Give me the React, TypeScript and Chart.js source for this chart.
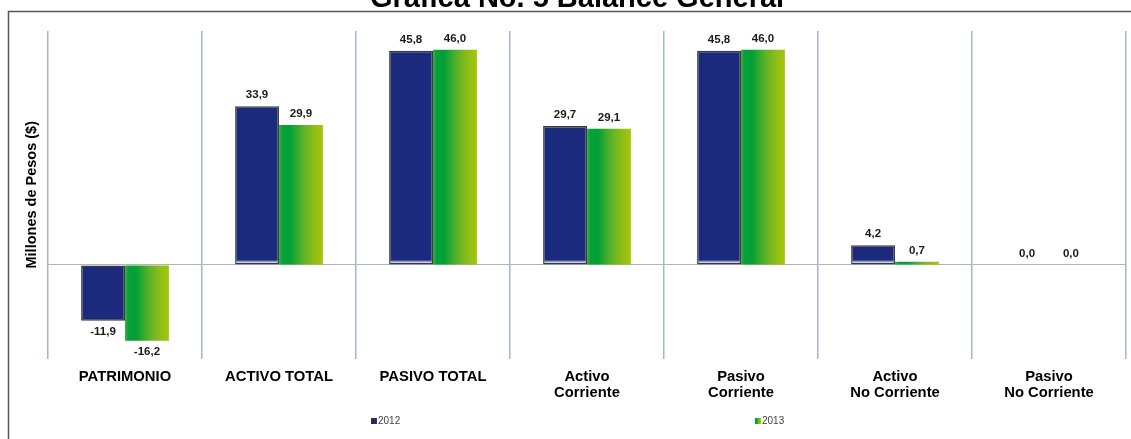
import React, { useEffect, useRef } from 'react';
import { Chart, registerables } from 'chart.js';

Chart.register(...registerables);

// ---- Data ----
const categories: string[][] = [
  ['PATRIMONIO'],
  ['ACTIVO TOTAL'],
  ['PASIVO TOTAL'],
  ['Activo', 'Corriente'],
  ['Pasivo', 'Corriente'],
  ['Activo', 'No Corriente'],
  ['Pasivo', 'No Corriente'],
];
const seriesNames = ['2012', '2013'];
const values2012 = [-11.9, 33.9, 45.8, 29.7, 45.8, 4.2, 0.0];
const values2013 = [-16.2, 29.9, 46.0, 29.1, 46.0, 0.7, 0.0];
const yMin = -20;
const yMax = 50;
const yStep = 10;
const chartTitle = 'Grafica No. 5 Balance General';
const yAxisTitle = 'Millones de Pesos ($)';

// ---- Styles ----
const FONT = '"Liberation Sans", Arial, Helvetica, sans-serif';
const NAVY = '#1b2a7d';
const CAT_PCT = 0.57;

function greenGradient(c: CanvasRenderingContext2D, x0: number, x1: number) {
  const g = c.createLinearGradient(x0, 0, x1, 0);
  g.addColorStop(0, '#45b04e');
  g.addColorStop(0.07, '#07a03a');
  g.addColorStop(0.25, '#02a034');
  g.addColorStop(0.55, '#5cb129');
  g.addColorStop(0.8, '#8fbe16');
  g.addColorStop(1, '#a5c50a');
  return g;
}

function blueFill(ctx: any) {
  const chart = ctx.chart;
  const ys = chart.scales && chart.scales.y;
  if (!ys || ctx.type !== 'data') return NAVY;
  const v = Number(ctx.raw);
  if (!(v > 0)) return NAVY;
  const top = ys.getPixelForValue(v);
  const base = ys.getPixelForValue(0);
  const h = base - top;
  if (!isFinite(h) || h < 10) return NAVY;
  const g = chart.ctx.createLinearGradient(0, top, 0, base);
  g.addColorStop(0, '#4a5aa6');
  g.addColorStop(Math.min(0.2, 2 / h), NAVY);
  g.addColorStop(1 - 5 / h, NAVY);
  g.addColorStop(1 - 3 / h, '#b4b8e6');
  g.addColorStop(1 - 1.5 / h, '#f0f0fb');
  g.addColorStop(1, '#cfd0df');
  return g;
}

function greenFill(ctx: any) {
  const chart = ctx.chart;
  const xs = chart.scales && chart.scales.x;
  if (!xs || ctx.type !== 'data') return '#3aa832';
  const center = xs.getPixelForValue(ctx.dataIndex);
  const cat = (xs.right - xs.left) / categories.length;
  const w = (cat * CAT_PCT) / 2;
  if (!isFinite(center) || !isFinite(w) || w <= 0) return '#3aa832';
  return greenGradient(chart.ctx, center, center + w);
}

const fmt = (v: number) => v.toFixed(1).replace('.', ',');

const valueLabels = {
  id: 'valueLabels',
  afterDatasetsDraw(chart: any) {
    const c = chart.ctx as CanvasRenderingContext2D;
    c.save();
    c.font = `bold 11.5px ${FONT}`;
    c.fillStyle = '#1a1a1a';
    c.textAlign = 'center';
    chart.data.datasets.forEach((ds: any, di: number) => {
      const meta = chart.getDatasetMeta(di);
      meta.data.forEach((el: any, i: number) => {
        const v = ds.data[i];
        const txt = fmt(v);
        if (v < 0) {
          c.textBaseline = 'top';
          c.fillText(txt, el.x, el.y + 5);
        } else {
          c.textBaseline = 'alphabetic';
          c.fillText(txt, el.x, el.y - 8);
        }
      });
    });
    c.restore();
  },
};

const frameAndTitle = {
  id: 'frameAndTitle',
  afterDraw(chart: any) {
    const c = chart.ctx as CanvasRenderingContext2D;
    const W = chart.width;
    const H = chart.height;
    c.save();
    // frame
    c.strokeStyle = '#555555';
    c.lineWidth = 1.5;
    c.beginPath();
    c.moveTo(8.5, H);
    c.lineTo(8.5, 11.5);
    c.lineTo(W, 11.5);
    c.stroke();
    // title (cut at top)
    c.font = `bold 29px ${FONT}`;
    c.fillStyle = '#000';
    c.textAlign = 'center';
    c.textBaseline = 'alphabetic';
    c.fillText(chartTitle, 577, 7);
    // legend
    c.font = `10px ${FONT}`;
    c.textBaseline = 'middle';
    c.textAlign = 'left';
    const ly = 421;
    const positions = [0.328 * W, 0.6675 * W];
    seriesNames.forEach((name, i) => {
      const x = positions[i];
      if (i === 0) {
        c.fillStyle = '#333';
        c.fillRect(x, ly - 3, 6, 6);
        c.fillStyle = NAVY;
        c.fillRect(x + 1, ly - 2, 4, 4);
      } else {
        c.fillStyle = greenGradient(c, x, x + 6);
        c.fillRect(x, ly - 3, 6, 6);
      }
      c.fillStyle = '#404040';
      c.fillText(name, x + 7, ly + 0.5);
    });
    c.restore();
  },
};

export default function App() {
  const ref = useRef<HTMLCanvasElement | null>(null);
  useEffect(() => {
    if (!ref.current) return;
    const chart = new Chart(ref.current, {
      type: 'bar',
      data: {
        labels: categories,
        datasets: [
          {
            label: seriesNames[0],
            data: values2012,
            backgroundColor: blueFill,
            borderColor: '#3a3a3a',
            borderWidth: 1.5,
            borderSkipped: false,
            barPercentage: 1,
            categoryPercentage: CAT_PCT,
          },
          {
            label: seriesNames[1],
            data: values2013,
            backgroundColor: greenFill,
            borderWidth: 0,
            barPercentage: 1,
            categoryPercentage: CAT_PCT,
          },
        ],
      },
      options: {
        responsive: false,
        animation: false,
        devicePixelRatio: 1,
        layout: { padding: { left: 19.3, right: 5, top: 31, bottom: 27.9 } },
        plugins: {
          legend: { display: false },
          title: { display: false },
          tooltip: { enabled: false },
        },
        scales: {
          x: {
            grid: { display: true, offset: true, color: '#a3b6cf', lineWidth: 1.5, drawTicks: false },
            border: { display: false },
            ticks: {
              font: { family: FONT, size: 14.8, weight: 'bold', lineHeight: 1.12 },
              color: '#000',
              padding: 9.7,
              maxRotation: 0,
              autoSkip: false,
            },
          },
          y: {
            min: yMin,
            max: yMax,
            grid: {
              color: (c: any) => (c.tick && c.tick.value === 0 ? '#b4b4b4' : 'rgba(0,0,0,0)'),
              lineWidth: 1,
              drawTicks: false,
            },
            border: { display: false },
            ticks: { display: false, stepSize: yStep },
            title: {
              display: true,
              text: yAxisTitle,
              color: '#000',
              font: { family: FONT, size: 14.5, weight: 'bold', lineHeight: 1.2 },
              padding: { top: 4, bottom: 7.3 },
            },
          },
        },
      },
      plugins: [valueLabels, frameAndTitle],
    } as any);
    return () => chart.destroy();
  }, []);
  return (
    <div style={{ position: 'fixed', left: 0, top: 0, width: 1131, height: 439, background: '#fff' }}>
      <canvas ref={ref} width={1131} height={439} style={{ width: 1131, height: 439, display: 'block' }} />
    </div>
  );
}
